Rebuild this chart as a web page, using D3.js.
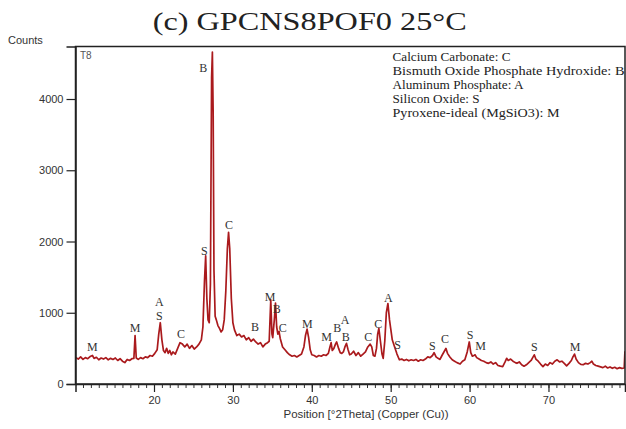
<!DOCTYPE html>
<html>
<head>
<meta charset="utf-8">
<script src="https://cdn.jsdelivr.net/npm/d3@7"></script>
<style>
  html, body { margin: 0; padding: 0; background: #fff; }
  svg { display: block; }
</style>
</head>
<body>
<svg id="chart" width="626" height="429"></svg>
<script>
// ---------------- DATA ----------------
const twoTheta = [
 10.1,10.4,10.7,11.0,11.3,11.6,11.9,12.2,12.4,12.7,13.0,13.3,13.6,13.9,14.2,14.5,14.8,15.1,15.4,15.7,
 16.0,16.3,16.6,16.9,17.2,17.45,17.6,17.75,18.0,18.3,18.6,18.9,19.2,19.5,19.8,20.1,20.4,20.6,20.8,21.0,
 21.2,21.4,21.6,21.8,22.0,22.2,22.4,22.7,23.0,23.3,23.6,23.9,24.2,24.5,24.8,25.1,25.4,25.7,26.0,26.2,
 26.4,26.55,26.7,26.85,27.0,27.15,27.3,27.4,27.5,27.6,27.75,27.9,28.1,28.3,28.5,28.7,28.9,29.1,29.3,29.45,
 29.6,29.8,30.0,30.2,30.5,30.8,31.1,31.4,31.7,32.0,32.3,32.6,32.9,33.2,33.5,33.8,34.1,34.4,34.6,34.8,
 34.95,35.05,35.25,35.4,35.55,35.7,35.85,36.0,36.3,36.6,36.9,37.2,37.5,37.8,38.1,38.4,38.7,39.0,39.2,39.4,
 39.6,39.8,40.0,40.3,40.6,40.9,41.2,41.5,41.8,42.1,42.3,42.45,42.6,42.8,43.0,43.15,43.4,43.6,43.8,44.0,
 44.2,44.4,44.6,44.8,45.0,45.3,45.6,45.9,46.2,46.5,46.8,47.1,47.4,47.6,47.8,48.0,48.2,48.35,48.5,48.7,
 48.9,49.05,49.25,49.45,49.65,49.85,50.0,50.2,50.5,50.8,51.1,51.4,51.7,52.0,52.3,52.6,52.9,53.2,53.5,53.8,
 54.1,54.4,54.7,55.0,55.3,55.5,55.75,56.0,56.25,56.5,56.8,57.0,57.2,57.5,57.8,58.1,58.4,58.8,59.1,59.4,
 59.7,59.96,60.15,60.35,60.55,60.7,60.9,61.2,61.5,61.8,62.1,62.4,62.7,63.0,63.3,63.6,63.9,64.2,64.5,64.7,
 64.9,65.2,65.5,65.8,66.0,66.3,66.6,66.9,67.2,67.5,67.8,68.0,68.2,68.4,68.7,69.0,69.3,69.6,69.9,70.2,
 70.5,70.8,71.1,71.4,71.7,72.0,72.3,72.6,72.9,73.1,73.3,73.5,73.8,74.1,74.4,74.7,75.0,75.3,75.5,75.7,
 76.0,76.3,76.6,76.9,77.2,77.5,77.8,78.1,78.4,78.7,79.0,79.3,79.6,79.69
];
const counts = [
 370,350,380,345,370,355,385,400,360,375,340,365,350,370,340,360,345,365,330,355,
 320,300,345,330,355,360,680,365,345,370,355,380,370,400,390,430,480,700,860,620,
 470,440,500,430,470,410,450,420,500,580,560,520,560,500,540,490,520,560,620,800,
 1450,1800,1200,900,860,1400,4300,4660,3800,1600,950,900,820,780,730,760,900,1300,1900,2130,
 1900,1200,860,760,680,700,660,680,620,650,600,630,590,560,580,520,560,580,600,1180,
 700,650,900,1135,800,700,740,640,520,480,440,410,390,400,380,400,420,520,680,770,
 650,480,410,400,380,400,390,410,400,430,520,580,470,500,560,590,500,440,430,450,
 520,570,480,410,420,460,400,440,390,420,450,520,560,520,400,390,500,700,780,600,
 420,360,600,1000,1130,900,780,620,520,420,340,350,330,345,325,340,330,345,320,340,
 330,350,380,370,400,440,380,360,345,400,460,500,430,380,340,320,300,280,320,340,
 450,590,440,390,400,410,370,350,330,320,300,290,310,280,300,260,250,245,310,360,
 330,350,320,300,290,310,270,250,270,300,330,370,410,350,320,280,245,280,260,300,
 280,320,340,310,320,290,255,290,330,380,420,350,300,275,270,290,280,300,320,280,
 260,250,240,230,250,225,240,220,235,215,230,220,225,460
];

const yTicks = [0, 1000, 2000, 3000, 4000];
const xTicks = [20, 30, 40, 50, 60, 70];
const xMinorTicks = d3.range(11, 80, 1);

const phaseText = ['M','M','A','S','C','S','B','C','B','M','B','C','M','M','B','A','B','C','C','A','S','S','C','S','M','S','M'];
const phaseX    = [12.18,17.59,20.67,20.67,23.42,26.38,26.25,29.51,32.80,34.70,35.55,36.31,39.43,41.89,43.23,44.21,44.30,47.16,48.43,49.70,50.89,55.27,56.88,60.05,61.41,68.20,73.36];
const phaseY    = [515,782,1147,959,698,1871,4439,2232,796,1225,1053,782,842,655,782,898,664,664,838,1203,547,533,627,688,533,515,524];

const legendLines = [
  'Calcium Carbonate: C',
  'Bismuth Oxide Phosphate Hydroxide: B',
  'Aluminum Phosphate: A',
  'Silicon Oxide: S',
  'Pyroxene-ideal (MgSiO3): M'
];
const legendWidths = [118, 232, 131, 87, 167];

const titleText = '(c) GPCNS8POF0 25°C';
const yAxisTitle = 'Counts';
const xAxisTitle = 'Position [°2Theta] (Copper (Cu))';
const panelTag = 'T8';

// ---------------- LAYOUT ----------------
const L = 75.5, R = 625, T = 46.5, B = 384;
const svg = d3.select('#chart');
svg.append('rect').attr('width', 626).attr('height', 429).attr('fill', '#fff');

const x = d3.scaleLinear().domain([10.05, 79.7]).range([L, R]);
const y = d3.scaleLinear().domain([0, 4737]).range([B, T]);

const sans = 'Liberation Sans, Arial, sans-serif';
const serif = 'Liberation Serif, Times New Roman, serif';

// title
svg.append('text')
  .attr('x', 152.7).attr('y', 30)
  .attr('font-family', serif).attr('font-size', 26)
  .attr('fill', '#222')
  .attr('textLength', 314).attr('lengthAdjust', 'spacingAndGlyphs')
  .text(titleText);

// Counts label
svg.append('text')
  .attr('x', 8).attr('y', 44)
  .attr('font-family', sans).attr('font-size', 11).attr('fill', '#333')
  .text(yAxisTitle);

// data line
const clipId = 'plotclip';
svg.append('clipPath').attr('id', clipId)
  .append('rect').attr('x', L).attr('y', T).attr('width', R - L).attr('height', B - T);

const line = d3.line().x((d, i) => x(twoTheta[i])).y(d => y(d));
svg.append('path')
  .datum(counts)
  .attr('clip-path', `url(#${clipId})`)
  .attr('fill', 'none')
  .attr('stroke', '#aa1a1d')
  .attr('stroke-width', 1.7)
  .attr('stroke-linejoin', 'round')
  .attr('d', line);

// frame
svg.append('rect')
  .attr('x', L).attr('y', T).attr('width', R - L).attr('height', B - T)
  .attr('fill', 'none').attr('stroke', '#222').attr('stroke-width', 1.5);

// y axis
const yAxis = d3.axisLeft(y).tickValues(yTicks).tickSize(9).tickPadding(3).tickFormat(d3.format('d'));
const gy = svg.append('g').attr('transform', `translate(${L},0)`).call(yAxis);
gy.select('.domain').attr('stroke', '#222').attr('stroke-width', 1.5);
gy.selectAll('.tick line').attr('stroke', '#222').attr('stroke-width', 1.2);
gy.selectAll('.tick text').attr('font-family', sans).attr('font-size', 11).attr('fill', '#333');

// x axis minor
const xMinor = d3.axisBottom(x).tickValues(xMinorTicks).tickSize(4).tickFormat('');
const gxm = svg.append('g').attr('transform', `translate(0,${B})`).call(xMinor);
gxm.select('.domain').remove();
gxm.selectAll('.tick line').attr('stroke', '#333').attr('stroke-width', 1);

// x axis major
const xAxis = d3.axisBottom(x).tickValues(xTicks).tickSize(8).tickPadding(4).tickFormat(d3.format('d'));
const gx = svg.append('g').attr('transform', `translate(0,${B})`).call(xAxis);
gx.select('.domain').attr('stroke', '#222').attr('stroke-width', 1.5);
gx.selectAll('.tick line').attr('stroke', '#222').attr('stroke-width', 1.2);
gx.selectAll('.tick text').attr('font-family', sans).attr('font-size', 11).attr('fill', '#333');

// x axis title
svg.append('text')
  .attr('x', 366).attr('y', 418)
  .attr('text-anchor', 'middle')
  .attr('font-family', sans).attr('font-size', 11.5).attr('fill', '#333')
  .text(xAxisTitle);

// panel tag
svg.append('text')
  .attr('x', 80).attr('y', 59)
  .attr('font-family', sans).attr('font-size', 10).attr('fill', '#555')
  .text(panelTag);

// legend text
svg.append('g').selectAll('text').data(legendLines).join('text')
  .attr('x', 392.5)
  .attr('y', (d, i) => 61 + i * 14)
  .attr('font-family', serif).attr('font-size', 13).attr('fill', '#222')
  .attr('textLength', (d, i) => legendWidths[i]).attr('lengthAdjust', 'spacingAndGlyphs')
  .text(d => d);

// phase labels
svg.append('g').selectAll('text').data(phaseText).join('text')
  .attr('x', (d, i) => x(phaseX[i]))
  .attr('y', (d, i) => y(phaseY[i]))
  .attr('text-anchor', 'middle')
  .attr('dominant-baseline', 'central')
  .attr('font-family', serif).attr('font-size', 12).attr('fill', '#333')
  .text(d => d);
</script>
</body>
</html>
